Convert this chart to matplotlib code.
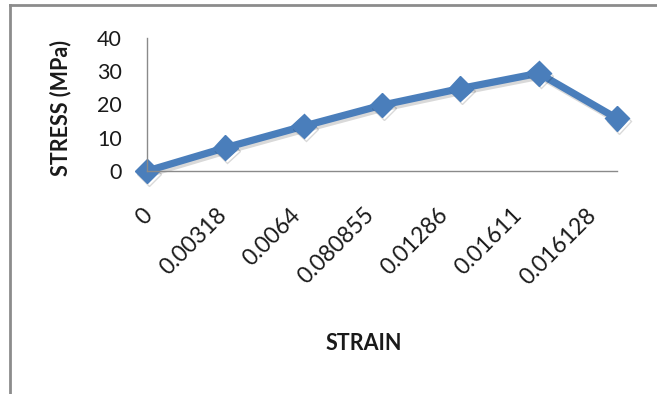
import matplotlib
matplotlib.use("Agg")
import matplotlib.pyplot as plt
import matplotlib.patheffects as pe
import matplotlib.transforms as mtrans
from matplotlib.lines import Line2D

strain_labels = ["0", "0.00318", "0.0064", "0.080855", "0.01286", "0.01611", "0.016128"]
stress = [0, 7, 13.5, 19.8, 24.8, 29.4, 15.8]
yticks = [0, 10, 20, 30, 40]

plt.rcParams['font.family'] = ['Lato', 'DejaVu Sans']

W, H = 657, 394
fig = plt.figure(figsize=(W/100, H/100), dpi=100)
ax = fig.add_axes([147/W, 1-171/H, (617-147)/W, (171-38)/H])

x = list(range(len(stress)))
ax.plot(x, stress, color='#4A7EBB', lw=5.2, marker='D', ms=12.5,
        markeredgecolor='#4A7EBB', clip_on=False, solid_joinstyle='miter',
        path_effects=[pe.SimpleLineShadow(offset=(1.5, -2), shadow_color='black', alpha=0.15),
                      pe.Normal()])

ax.set_xlim(0, len(stress)-1)
ax.set_ylim(0, 40)
ax.set_yticks(yticks)
ax.set_yticklabels([str(v) for v in yticks], fontsize=15.5, color='#1a1a1a')
ax.set_xticks(x)
ax.set_xticklabels(strain_labels, fontsize=16.5, rotation=45, ha='right', va='top',
                   rotation_mode='anchor', color='#1a1a1a')
ax.tick_params(axis='y', length=0, pad=18)
ax.tick_params(axis='x', length=0, pad=24)

# Excel lays the rotated labels out at a slightly tighter pitch than the points
for i, lab in enumerate(ax.get_xticklabels()):
    off = mtrans.ScaledTranslation((-5 - 4.4 * i) / 100, 0, fig.dpi_scale_trans)
    lab.set_transform(lab.get_transform() + off)

for s in ['top', 'right']:
    ax.spines[s].set_visible(False)
for s in ['left', 'bottom']:
    ax.spines[s].set_color('#8a8a8a')
    ax.spines[s].set_linewidth(1.0)

fig.text(61/W, 1-108/H, "STRESS (MPa)", rotation=90, ha='center', va='center',
         fontsize=15.5, fontweight='bold', color='#1a1a1a')
fig.text(364/W, 1-344/H, "STRAIN", ha='center', va='center',
         fontsize=15.5, fontweight='bold', color='#1a1a1a')

# chart frame (top and left edges visible)
fig.add_artist(Line2D([10/W, 1], [1-5/H, 1-5/H], transform=fig.transFigure, color='#8c8c8c', lw=2))
fig.add_artist(Line2D([10/W, 10/W], [0, 1-5/H], transform=fig.transFigure, color='#8c8c8c', lw=2))

fig.savefig("out.png", dpi=100)
